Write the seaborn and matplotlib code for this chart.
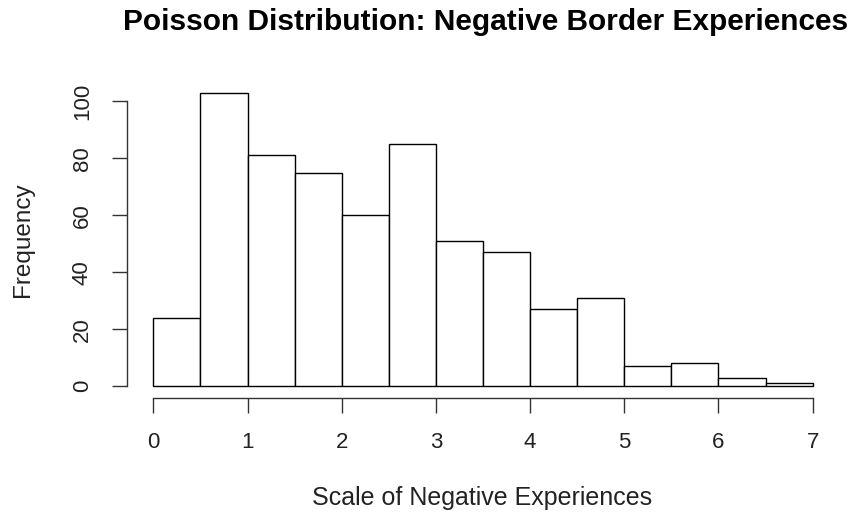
import numpy as np
import pandas as pd
import seaborn as sns
import matplotlib
matplotlib.use("Agg")
import matplotlib.pyplot as plt

# Data (bin width 0.5)
bin_edges = [0, 0.5, 1, 1.5, 2, 2.5, 3, 3.5, 4, 4.5, 5, 5.5, 6, 6.5, 7]
counts = [24, 103, 81, 75, 60, 85, 51, 47, 27, 31, 7, 8, 3, 1]
x_ticks = [0, 1, 2, 3, 4, 5, 6, 7]
y_ticks = [0, 20, 40, 60, 80, 100]

title = "Poisson Distribution: Negative Border Experiences"
xlabel = "Scale of Negative Experiences"
ylabel = "Frequency"

sns.set_style("ticks")
plt.rcParams['font.family'] = ['Liberation Sans', 'DejaVu Sans']

mids = [(bin_edges[i] + bin_edges[i + 1]) / 2 for i in range(len(counts))]
df = pd.DataFrame({"x": mids, "w": counts})

fig = plt.figure(figsize=(8.52, 5.21), dpi=100)
ax = fig.add_axes([127 / 852, 1 - 398 / 521, (839 - 127) / 852, (398 - 81) / 521])

sns.histplot(data=df, x="x", weights="w", bins=bin_edges, ax=ax,
             color="white", edgecolor="black", linewidth=1.0, alpha=1)

ax.set_xlim(-0.28, 7.28)
ax.set_ylim(-4.12, 107.12)
ax.set_xticks(x_ticks)
ax.set_yticks(y_ticks)
ax.set_yticklabels([str(v) for v in y_ticks], rotation=90, va="center")
for s in ["top", "right"]:
    ax.spines[s].set_visible(False)
ax.spines["left"].set_bounds(0, 100)
ax.spines["bottom"].set_bounds(0, 7)
for s in ["left", "bottom"]:
    ax.spines[s].set_linewidth(1.0)
    ax.spines[s].set_color("#333333")
ax.tick_params(axis="both", length=10.5, width=1.0, color="#333333",
               labelsize=16, pad=14, labelcolor="#222222")

ax.set_xlabel("")
ax.set_ylabel("")
fig.text(482 / 852, 1 - 498 / 521, xlabel, fontsize=18, color="#222222",
         ha="center", va="center")
fig.text(23 / 852, 1 - 240 / 521, ylabel, fontsize=17.5, color="#222222",
         ha="center", va="center", rotation=90)
fig.text(486 / 852, 1 - 22 / 521, title, fontsize=21.5, fontweight="bold",
         ha="center", va="center", color="black")

fig.savefig("out.png", dpi=100, facecolor="white")
